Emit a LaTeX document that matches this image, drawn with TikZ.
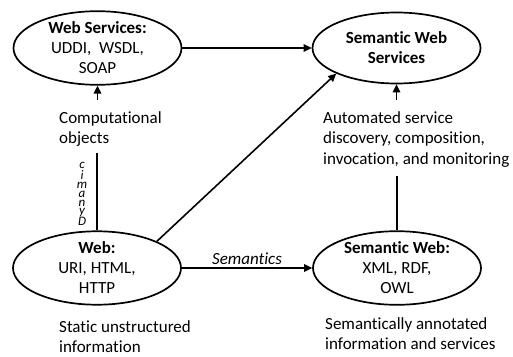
\documentclass[tikz,border=0pt]{standalone}
\usepackage{fontspec}
\setmainfont{Carlito}[Ligatures=NoCommon]
\usetikzlibrary{shapes.geometric,arrows.meta}
\begin{document}
\begin{tikzpicture}[x=1pt,y=-1pt,
  oval/.style={ellipse, draw, line width=1.7pt, minimum width=168pt, minimum height=71pt, inner sep=0pt, align=center, font=\fontsize{17}{20}\selectfont},
  lbl/.style={inner sep=0pt, anchor=base west, font=\fontsize{17}{20.5}\selectfont},
  conn/.style={line width=1.6pt},
  arr/.style={conn, -{Triangle[length=8pt,width=7.5pt]}},
  dyn/.style={inner sep=0pt, font=\fontsize{13}{8.3}\selectfont\itshape}]
\useasboundingbox (0,0) rectangle (513,356);

% ellipses
\node[oval] (ws)  at (97.5,48)  {\textbf{Web Services:}\\UDDI,\ \ WSDL,\\SOAP};
\node[oval] (sws) at (396.5,48) {\textbf{Semantic Web}\\\textbf{Services}};
\node[oval] (web) at (97,268)   {\textbf{Web:}\\URI, HTML,\\HTTP};
\node[oval] (sw)  at (397,268)  {\textbf{Semantic Web:}\\XML, RDF,\\OWL};

% labels
\node[lbl] (comp) at (59,123) {\begin{tabular}[t]{@{}l@{}}Computational\\objects\end{tabular}};
\node[lbl] (auto) at (323,123) {\begin{tabular}[t]{@{}l@{}}Automated service\\discovery, composition,\\invocation, and monitoring\end{tabular}};
\node[lbl] (stat) at (59,332) {\begin{tabular}[t]{@{}l@{}}Static unstructured\\information\end{tabular}};
\node[lbl] (sann) at (325,329) {\begin{tabular}[t]{@{}l@{}}Semantically annotated\\information and services\end{tabular}};

% free ends
\coordinate (compTop) at (97.5,100);
\coordinate (compBot) at (97,153);
\coordinate (autoTop) at (396.5,100);
\coordinate (autoBot) at (397,176);

% connectors
\draw[arr] (ws.east) -- (sws.west);
\draw[arr] (compTop) -- (ws.south);
\draw[conn] (web.north) -- (compBot);
\draw[arr] (web.24) -- (sws.203);
\draw[arr] (autoTop) -- (sws.south);
\draw[conn] (sw.north) -- (autoBot);
\draw[arr] (web.east) -- node[above=3pt, inner sep=0pt, font=\fontsize{17}{20}\selectfont\itshape] (semlbl) {Semantics} (sw.west);

% stacked "Dynamic"
\node[dyn] (dynlbl) at (82,195) {\begin{tabular}{@{}c@{}}c\\i\\m\\a\\n\\y\\D\end{tabular}};
\end{tikzpicture}
\end{document}
